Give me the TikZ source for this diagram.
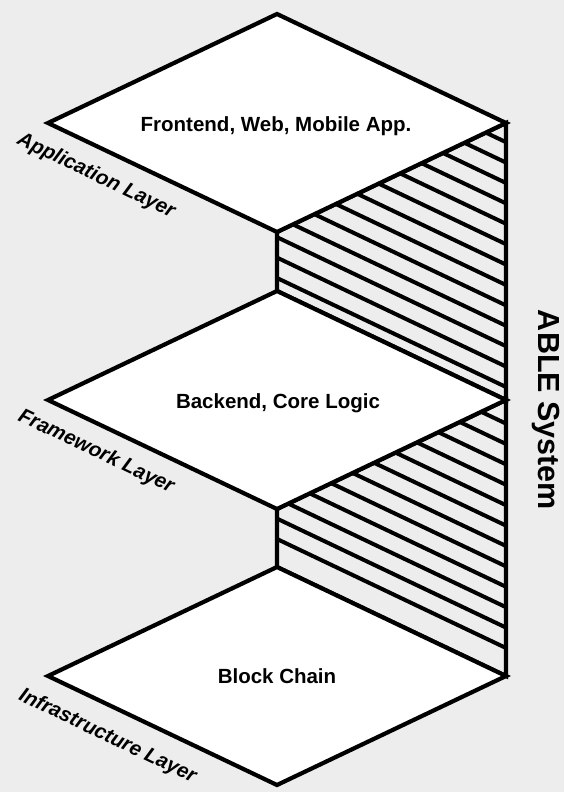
\documentclass[tikz,border=0pt]{standalone}
\usepackage{fontspec}
\setmainfont{Liberation Sans}
\begin{document}
\begin{tikzpicture}[x=1pt,y=-1pt,
  edge/.style={line width=4.2pt, line join=miter, draw=black},
  hatchline/.style={line width=4pt, draw=black},
  layertext/.style={font=\bfseries\fontsize{20.5}{24}\selectfont, anchor=base, inner sep=0pt},
  sidelabel/.style={font=\bfseries\itshape\fontsize{20.5}{25}\selectfont, inner sep=0pt,
    rotate=-25.5},
  systemlabel/.style={font=\bfseries\fontsize{30.5}{36}\selectfont, rotate=-90, anchor=base, inner sep=0pt},
]
\definecolor{bggray}{HTML}{EDEDED}
\useasboundingbox[fill=bggray] (0,0) rectangle (564,792);

% corner points of the three layer plates
\foreach \n/\cy in {app/123, fw/400, inf/676} {
  \coordinate (\n-t) at (277,{\cy-109});
  \coordinate (\n-r) at (506,\cy);
  \coordinate (\n-b) at (277,{\cy+109});
  \coordinate (\n-l) at (48,\cy);
}

% hatched side walls between the plates
\begin{scope}
  \clip (app-b) -- (app-r) -- (fw-r) -- (fw-t) -- cycle;
  \foreach \k in {0,...,12}
    \draw[hatchline] (277,{387-20.4*\k-109}) -- (506,{387-20.4*\k});
\end{scope}
\begin{scope}
  \clip (fw-b) -- (fw-r) -- (inf-r) -- (inf-t) -- cycle;
  \foreach \k in {0,...,11}
    \draw[hatchline] (277,{648-20.4*\k-109}) -- (506,{648-20.4*\k});
\end{scope}
\draw[edge] (app-b) -- (app-r) -- (fw-r) -- (fw-t) -- cycle;
\draw[edge] (fw-b) -- (fw-r) -- (inf-r) -- (inf-t) -- cycle;

% the plates
\foreach \n in {app, fw, inf}
  \filldraw[edge, fill=white] (\n-t) -- (\n-r) -- (\n-b) -- (\n-l) -- cycle;

% right-hand spine
\draw[edge] (app-r) -- (inf-r);

% plate captions
\node[layertext] (app-text) at (276,131) {Frontend, Web, Mobile App.};
\node[layertext] (fw-text) at (278,408) {Backend, Core Logic};
\node[layertext] (inf-text) at (277,683) {Block Chain};

% layer names along the front edges
\node[sidelabel] (app-label) at (96,176) {Application Layer};
\node[sidelabel] (fw-label) at (96,452) {Framework Layer};
\node[sidelabel] (inf-label) at (107.5,736.5) {Infrastructure Layer};

% system name
\node[systemlabel] (system) at (538,410) {ABLE System};
\end{tikzpicture}
\end{document}
